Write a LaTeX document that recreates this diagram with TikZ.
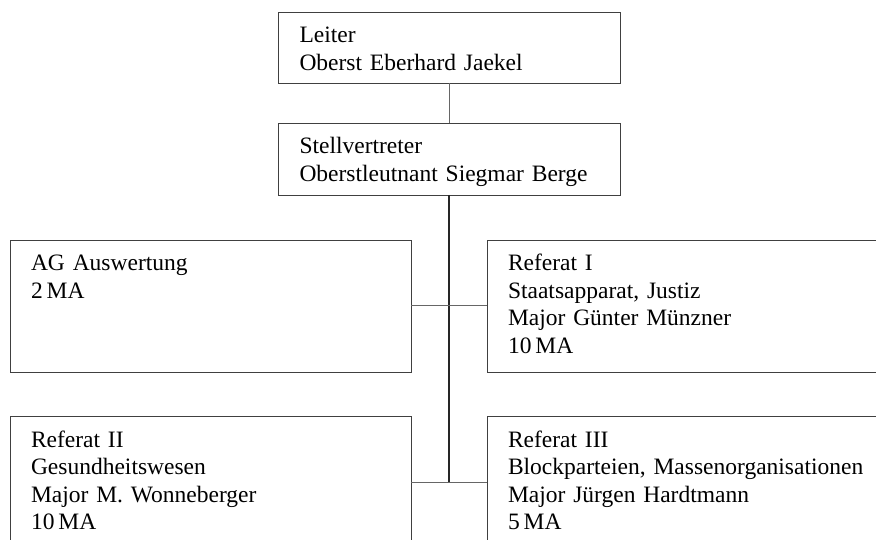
\documentclass[tikz,border=0pt]{standalone}
\usepackage{fontspec}
\setmainfont{Liberation Serif}

\begin{document}
\begin{tikzpicture}[x=1pt, y=-1pt,
	box/.style={draw=black!75, line width=0.8pt, anchor=north west, align=left,
		inner xsep=21pt, inner ysep=0pt, outer sep=0pt, text height=31pt,
		font=\fontsize{23.5}{27.5}\selectfont},
	link/.style={draw=black!60, line width=1pt},
	spine/.style={draw=black!85, line width=1.6pt}]
	\path[use as bounding box] (0,0) rectangle (876,540);
	\clip (0,0) rectangle (876,540);
	\node[box, text width=299.5pt, text depth=40pt] (L) at (278.5,12) {Leiter\\Oberst Eberhard Jaekel};
	\node[box, text width=299.5pt, text depth=41pt] (S) at (278.5,123) {Stellvertreter\\Oberstleutnant Siegmar Berge};
	\node[box, text width=359pt, text depth=101pt] (AG) at (10,240) {AG Auswertung\\2\,MA};
	\node[box, text width=359pt, text depth=101pt] (R1) at (487,240) {Referat I\\Staatsapparat, Justiz\\Major Günter Münzner\\10\,MA};
	\node[box, text width=359pt, text depth=101pt] (R2) at (10,416) {Referat II\\Gesundheitswesen\\Major M. Wonneberger\\10\,MA};
	\node[box, text width=359pt, text depth=101pt] (R3) at (487,416) {Referat III\\Blockparteien, Massenorganisationen\\Major Jürgen Hardtmann\\5\,MA};
	\draw[link] (L) to (S);
	\draw[spine] (S.south) to (S.south |- R2.east);
	\draw[link] (AG.east) to (R1.west);
	\draw[link] (R2.east) to (R3.west);
\end{tikzpicture}
\end{document}
